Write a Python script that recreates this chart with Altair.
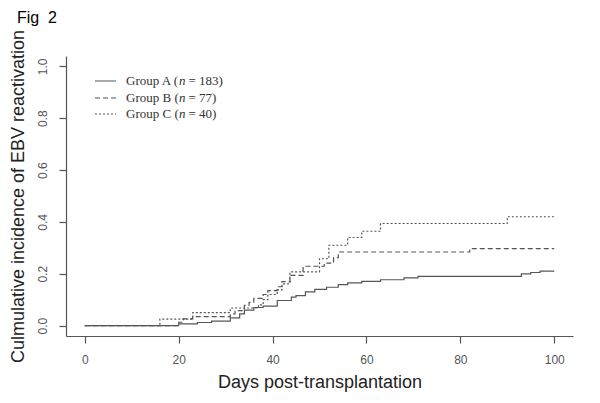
import altair as alt
import pandas as pd

# Group A (solid)
a_days = [0, 20, 24, 27, 31, 33, 34, 36, 38, 41, 44, 45, 47, 49, 51.5, 54, 56, 59, 63, 68, 71, 93, 95, 97, 100]
a_vals = [0, 0.007, 0.012, 0.017, 0.03, 0.045, 0.06, 0.07, 0.075, 0.097, 0.11, 0.116, 0.13, 0.14, 0.148,
          0.158, 0.165, 0.171, 0.177, 0.184, 0.19, 0.2, 0.205, 0.21, 0.21]
# Group B (dashed)
b_days = [0, 20, 21, 23, 31, 32, 34, 35, 36, 38, 39, 41, 42, 43.7, 46.5, 51, 53, 54, 82, 100]
b_vals = [0, 0.013, 0.026, 0.035, 0.045, 0.058, 0.078, 0.09, 0.105, 0.12, 0.135, 0.15, 0.17, 0.194,
          0.229, 0.241, 0.262, 0.284, 0.297, 0.297]
# Group C (dotted)
c_days = [0, 16, 23, 31, 37, 38, 39, 41, 42, 43.7, 50, 52, 56, 59, 63, 90, 100]
c_vals = [0, 0.025, 0.05, 0.068, 0.08, 0.1, 0.12, 0.138, 0.161, 0.207, 0.258, 0.31, 0.34, 0.364, 0.394, 0.42, 0.42]

groups = ["Group A", "Group B", "Group C"]
group_n = ["183", "77", "40"]
dashes = [[1, 0], [5, 3], [2, 2]]
x_ticks = [0, 20, 40, 60, 80, 100]
y_ticks = [0.0, 0.2, 0.4, 0.6, 0.8, 1.0]

rows = []
for g, ds, vs in zip(groups, [a_days, b_days, c_days], [a_vals, b_vals, c_vals]):
    for d, v in zip(ds, vs):
        rows.append({"group": g, "day": d, "ci": v})
df = pd.DataFrame(rows)

GRAY = "#555555"

lines = alt.Chart(df).mark_line(interpolate="step-after", color=GRAY, strokeWidth=1.2).encode(
    x=alt.X("day:Q", scale=alt.Scale(domain=[-4, 104], nice=False, zero=False),
            axis=alt.Axis(values=x_ticks, title="Days post-transplantation", format="d",
                          labelPadding=11, titlePadding=8)),
    y=alt.Y("ci:Q", scale=alt.Scale(domain=[-0.04, 1.04], nice=False, zero=False),
            axis=alt.Axis(values=y_ticks, format=".1f", labelAngle=270, labelAlign="center",
                          labelBaseline="bottom", labelPadding=10,
                          title="Culmulative incidence of EBV reactivation", titlePadding=9)),
    strokeDash=alt.StrokeDash("group:N", scale=alt.Scale(domain=groups, range=dashes), legend=None),
)

one = pd.DataFrame({"k": [0]})
layers = [lines]
row_y = [25, 42, 58]
for i, g in enumerate(groups):
    layers.append(alt.Chart(one).mark_rule(color=GRAY, strokeWidth=1.1, strokeDash=dashes[i]).encode(
        x=alt.value(29), x2=alt.value(50), y=alt.value(row_y[i])))
    base = dict(align="left", baseline="middle", font="Liberation Serif", fontSize=13, color="#333333")
    layers.append(alt.Chart(one).mark_text(**base).encode(
        x=alt.value(60), y=alt.value(row_y[i]), text=alt.value(g + " (")))
    layers.append(alt.Chart(one).mark_text(fontStyle="italic", **base).encode(
        x=alt.value(113), y=alt.value(row_y[i]), text=alt.value("n")))
    layers.append(alt.Chart(one).mark_text(**base).encode(
        x=alt.value(122.5), y=alt.value(row_y[i]), text=alt.value("= " + group_n[i] + ")")))

layers.append(alt.Chart(one).mark_text(align="left", baseline="middle", font="Liberation Sans",
                                       fontSize=16, color="#000000").encode(
    x=alt.value(-49), y=alt.value(-38), text=alt.value("Fig\u00a0\u00a02")))

chart = alt.layer(*layers).properties(
    width=507, height=280, autosize="none",
    padding={"left": 58, "top": 48, "right": 12, "bottom": 59},
).configure_view(stroke=None).configure_axis(
    grid=False, domainColor=GRAY, tickColor=GRAY, domainWidth=1.2, tickWidth=1.2, tickSize=7,
    labelFont="Liberation Sans", labelFontSize=12, labelColor="#555555",
    titleFont="Liberation Sans", titleFontSize=18, titleFontWeight="normal", titleColor="#222222",
)

chart.save("out.html", embed_options={"renderer": "svg", "actions": False})
